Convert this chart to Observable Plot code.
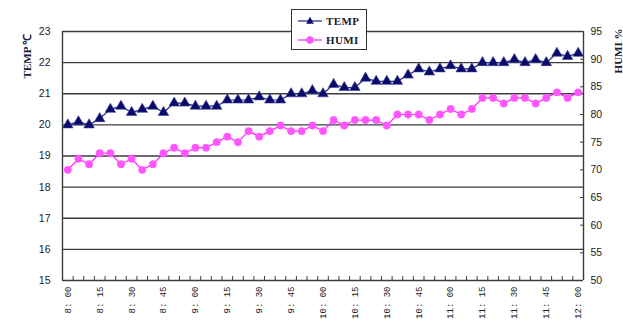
<!DOCTYPE html>
<html><head><meta charset="utf-8">
<script src="https://cdn.jsdelivr.net/npm/d3@7"></script>
<script src="https://cdn.jsdelivr.net/npm/@observablehq/plot@0.6"></script>
<style>
body{margin:0;background:#fff}
#wrap{position:relative;width:623px;height:320px}
#legend{position:absolute;left:291px;top:9px;width:76px;height:41px;border:1px solid #333;background:#fff;box-sizing:border-box;font:bold 11px "Liberation Serif",serif;color:#1a1a2a}
#legend .row{position:absolute;left:5px;height:12px;display:flex;align-items:center}
#legend svg{margin-right:3px}
</style>
</head><body><div id="wrap"></div>
<script>
const times = ["8: 00","8: 05","8: 10","8: 15","8: 20","8: 25","8: 30","8: 35","8: 40","8: 45","8: 50","8: 55",
  "9: 00","9: 05","9: 10","9: 15","9: 20","9: 25","9: 30","9: 35","9: 40","9: 45","9: 50","9: 55",
  "10: 00","10: 05","10: 10","10: 15","10: 20","10: 25","10: 30","10: 35","10: 40","10: 45","10: 50","10: 55",
  "11: 00","11: 05","11: 10","11: 15","11: 20","11: 25","11: 30","11: 35","11: 40","11: 45","11: 50","11: 55",
  "12: 00"];
const temp = [20.0,20.1,20.0,20.2,20.5,20.6,20.4,20.5,20.6,20.4,20.7,20.7,
  20.6,20.6,20.6,20.8,20.8,20.8,20.9,20.8,20.8,21.0,21.0,21.1,
  21.0,21.3,21.2,21.2,21.5,21.4,21.4,21.4,21.6,21.8,21.7,21.8,
  21.9,21.8,21.8,22.0,22.0,22.0,22.1,22.0,22.1,22.0,22.3,22.2,
  22.3];
const humi = [70,72,71,73,73,71,72,70,71,73,74,73,
  74,74,75,76,75,77,76,77,78,77,77,78,
  77,79,78,79,79,79,78,80,80,80,79,80,
  81,80,81,83,83,82,83,83,82,83,84,83,
  84];
const tempTicks = [15,16,17,18,19,20,21,22,23];
const humiTicks = [50,55,60,65,70,75,80,85,90,95];
const labelIdx = [0,3,6,9,12,15,18,21,24,27,30,33,36,39,42,45,48];
const series = [{name:"TEMP"},{name:"HUMI"}];

const toT = h => 15 + (h - 50) * 8 / 45;
const rows = times.map((t, i) => ({i, t, temp: temp[i], humi: humi[i], h: toT(humi[i])}));
const boundaries = times.slice(1).map((_, i) => i + 0.5);

const W = 623, H = 320, mt = 31, mb = 40, ml = 62, mr = 40;
const innerH = H - mt - mb, innerW = W - ml - mr;
const grid = "#3c3c3c";
const tempLine = "#23237f", tempDot = "#0a0a6a";
const humiLine = "#ff22ff", humiDot = "#ff55ff";

const chart = Plot.plot({
  width: W, height: H,
  marginTop: mt, marginBottom: mb, marginLeft: ml, marginRight: mr,
  style: {fontFamily: "'Liberation Sans', Arial, sans-serif", background: "#fff", color: "#222"},
  x: {domain: [-0.5, times.length - 0.5], axis: null},
  y: {domain: [15, 23], axis: null},
  marks: [
    Plot.ruleY(tempTicks, {stroke: grid, strokeWidth: 1.4}),
    Plot.ruleX([-0.5, times.length - 0.5], {stroke: grid, strokeWidth: 1.4}),
    Plot.ruleX(boundaries, {stroke: grid, strokeWidth: 1, insetTop: innerH - 4}),
    Plot.ruleY(humiTicks.map(toT), {stroke: grid, strokeWidth: 1, insetLeft: innerW - 3}),
    Plot.axisY({ticks: tempTicks, tickSize: 0, tickPadding: 12, fontSize: 10.5, tickFormat: d => d, label: null}),
    Plot.axisY({anchor: "right", ticks: humiTicks.map(toT), tickSize: 0, tickPadding: 7, fontSize: 10.5,
      tickFormat: (d, k) => humiTicks[k], label: null}),
    Plot.axisX({ticks: labelIdx, tickFormat: i => times[i], tickRotate: -90, tickSize: 0, tickPadding: 6,
      fontSize: 9, fontFamily: "'Liberation Mono', monospace", label: null}),
    Plot.line(rows, {x: "i", y: "h", stroke: humiLine, strokeWidth: 1.2}),
    Plot.dot(rows, {x: "i", y: "h", r: 3.7, fill: humiDot, stroke: humiDot, strokeWidth: 0.5}),
    Plot.line(rows, {x: "i", y: "temp", stroke: tempLine, strokeWidth: 1.2}),
    Plot.dot(rows, {x: "i", y: "temp", symbol: "triangle", r: 3.9, fill: tempDot, stroke: "#3a3a9a", strokeWidth: 0.6}),
    Plot.text(["TEMP ℃"], {frameAnchor: "top-left", dx: -39.5, dy: 2, rotate: -90, textAnchor: "end",
      fontWeight: "bold", fontSize: 11, fontFamily: "'Liberation Serif', serif", fill: "#1a1a3a"}),
    Plot.text(["HUMI %"], {frameAnchor: "top-right", dx: 30.5, dy: -3, rotate: -90, textAnchor: "end",
      fontWeight: "bold", fontSize: 11, fontFamily: "'Liberation Serif', serif", fill: "#1a1a3a"})
  ]
});
const wrap = document.getElementById("wrap");
wrap.appendChild(chart);

const legend = document.createElement("div");
legend.id = "legend";
const sym = (name) => name === "TEMP"
  ? `<svg width="26" height="12"><line x1="1" y1="6" x2="25" y2="6" stroke="${tempLine}" stroke-width="1.2"/><path d="M13,1.8 L16.8,8.8 L9.2,8.8 Z" fill="${tempDot}"/></svg>`
  : `<svg width="26" height="12"><line x1="1" y1="6" x2="25" y2="6" stroke="${humiLine}" stroke-width="1.2"/><circle cx="13" cy="6" r="3.7" fill="${humiDot}"/></svg>`;
series.forEach((s, k) => {
  const row = document.createElement("div");
  row.className = "row";
  row.style.top = (k === 0 ? 5 : 24) + "px";
  row.innerHTML = sym(s.name) + `<span style="letter-spacing:0.4px">${s.name}</span>`;
  legend.appendChild(row);
});
wrap.appendChild(legend);
</script>
</body></html>
